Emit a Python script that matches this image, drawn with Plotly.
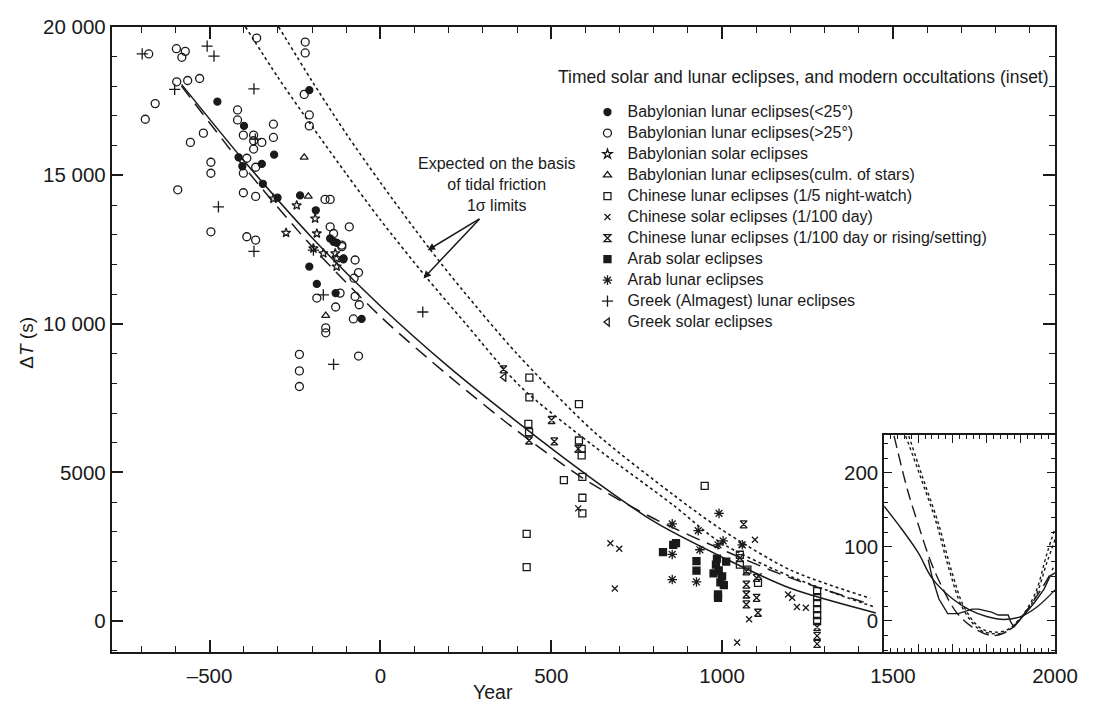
import plotly.graph_objects as go

W, H = 1102, 707
FONT = "Liberation Sans, Arial, sans-serif"
INK = "#1a1a1a"

# ---------------- data ----------------
bab_lun_lt25_year = [-477, -208, -399, -415, -404, -347, -344, -311, -301, -235, -189, -147, -128, -108,
                     -137, -108, -208, -186, -131, -55]
bab_lun_lt25_dt = [17479, 17867, 16663, 15606, 15305, 15383, 14714, 15694, 14246, 14324, 13822, 12875, 12731, 12173,
                   12764, 12206, 11928, 11346, 11035, 10166]

bab_lun_gt25_year = [-678, -597, -571, -581, -596, -564, -529, -659, -688, -556, -518, -496, -496, -593, -496,
                     -362, -418, -418, -401, -371, -371, -371, -347, -391, -365, -401, -313, -313, -401, -365,
                     -220, -220, -223, -208, -208, -162, -147, -147, -137, -113, -91, -74, -391, -365, -64,
                     -77, -74, -62, -131, -118, -186, -79, -160, -160, -237, -237, -237, -64, -113]
bab_lun_gt25_dt = [19085, 19262, 19172, 18972, 18148, 18191, 18258, 17413, 16887, 16108, 16419, 15440, 15070, 14513, 13098,
                   19620, 17200, 16863, 16352, 16352, 16163, 15884, 16108, 15574, 15272, 15072, 16720, 16274, 14413, 14290,
                   19484, 19118, 17723, 17031, 16663, 14190, 14190, 13266, 13042, 12597, 13266, 12150, 12932, 12820, 11727,
                   11537, 10925, 10644, 10567, 11035, 10868, 10166, 9865, 9698, 8972, 8417, 7892, 8916, 12651]

bab_sol_year = [-245, -276, -186, -191, -132, -313, -196, -167, -128, -128]
bab_sol_dt = [13988, 13065, 13042, 13543, 12373, 14212, 12540, 12373, 12206, 11928]

bab_culm_year = [-223, -211, -160]
bab_culm_dt = [15606, 14290, 10277]

chn_lun_watch_year = [436, 436, 433, 435, 428, 428, 581, 581, 589, 589, 591, 537, 591, 591, 949, 1074, 1052, 1052,
                      1105, 1278, 1278, 1278, 1278, 1278, 1278]
chn_lun_watch_dt = [8193, 7524, 6631, 6354, 2932, 1816, 7300, 6075, 5796, 5574, 4849, 4738, 4147, 3622, 4548, 1728, 2230, 1896,
                    1282, 1003, 800, 600, 400, 200, 0]

chn_sol_year = [579, 673, 699, 686, 1096, 1107, 1079, 1044, 1193, 1205, 1219, 1245, 1057]
chn_sol_dt = [3789, 2618, 2431, 1093, 2732, 1505, 57, -725, 892, 780, 468, 445, 2564]

chn_lun_day_year = [360, 501, 509, 579, 435, 1063, 1071, 1071, 1071, 1071, 1101, 1105, 1101, 1278, 1278, 1278, 1052]
chn_lun_day_dt = [8471, 6765, 6043, 5796, 6075, 3254, 1672, 1226, 892, 557, 780, 278, 1448, -200, -500, -770, 2118]

arab_sol_year = [827, 857, 865, 925, 925, 1005, 982, 990, 1000, 1012, 985, 988, 988, 995, 975]
arab_sol_dt = [2318, 2564, 2620, 1695, 2017, 1204, 1900, 1700, 1500, 2000, 2100, 892, 780, 1300, 1600]

arab_lun_year = [854, 854, 854, 930, 925, 935, 991, 1003, 988, 1059]
arab_lun_dt = [3267, 1394, 2240, 3043, 1314, 2397, 3622, 2698, 2564, 2564]

greek_lun_year = [-697, -507, -487, -602, -370, -474, -370, -196, -366, -167, 124, -137]
greek_lun_dt = [19085, 19350, 19010, 17890, 17910, 13940, 12440, 12480, 16220, 10979, 10400, 8638]

greek_sol_year = [362]
greek_sol_dt = [8200]

# fitted curves, main panel
fit_solid_year = [-582, -400, -200, 0, 200, 400, 600, 800, 1000, 1200, 1450]
fit_solid_dt = [18060, 15500, 12900, 10600, 8550, 6700, 4950, 3350, 2150, 1100, 270]

fit_dash_year = [-582, -400, -200, 0, 200, 400, 600, 800, 1000, 1200, 1433]
fit_dash_dt = [18000, 15300, 12600, 10250, 8250, 6400, 4750, 3450, 2400, 1450, 568]

tidal_hi_year = [-298, -200, -100, 0, 143, 243, 400, 623, 857, 994, 1200, 1433]
tidal_hi_dt = [20000, 18170, 16400, 14760, 12540, 11100, 8990, 6390, 4250, 3110, 1715, 769]

tidal_lo_year = [-395, -300, -200, -100, 0, 132, 250, 409, 623, 857, 994, 1200, 1450]
tidal_lo_dt = [20000, 18300, 16650, 15050, 13500, 11600, 10000, 7900, 5900, 3900, 2650, 1500, 450]

# inset curves (1500-2000)
ins_smooth_year = [1500, 1550, 1600, 1640, 1700, 1750, 1800, 1850, 1900, 1950, 2000]
ins_smooth_dt = [155, 125, 92, 58, 30, 15, 6, 2, 6, 20, 42]

ins_obs_year = [1629, 1640, 1660, 1686, 1717, 1757, 1777, 1814, 1834, 1863, 1871, 1880, 1900, 1940, 1968, 1986, 2000]
ins_obs_dt = [83, 60, 30, 10, 10, 16, 16, 12, 8, 8, -2, -8, 3, 25, 43, 61, 65]

ins_dash_year = [1529, 1569, 1600, 1634, 1663, 1711, 1757, 1806, 1834, 1871, 1920, 1977, 1995]
ins_dash_dt = [250, 176, 130, 83, 52, 12, -8, -19, -19, -11, 16, 56, 72]

ins_dot1_year = [1563, 1606, 1653, 1690, 1729, 1777, 1814, 1854, 1891, 1940, 1977, 2000]
ins_dot1_dt = [250, 195, 132, 70, 18, -11, -17, -15, -1, 35, 92, 125]

ins_dot2_year = [1572, 1612, 1660, 1697, 1735, 1780, 1820, 1860, 1895, 1940, 1977, 2000]
ins_dot2_dt = [250, 195, 130, 68, 18, -9, -15, -12, 2, 30, 80, 110]

series = [
    ("Babylonian lunar eclipses(<25°)", bab_lun_lt25_year, bab_lun_lt25_dt, "circle", 7),
    ("Babylonian lunar eclipses(>25°)", bab_lun_gt25_year, bab_lun_gt25_dt, "circle-open", 8),
    ("Babylonian solar eclipses", bab_sol_year, bab_sol_dt, "star-open", 7),
    ("Babylonian lunar eclipses(culm. of stars)", bab_culm_year, bab_culm_dt, "triangle-up-open", 7),
    ("Chinese lunar eclipses (1/5 night-watch)", chn_lun_watch_year, chn_lun_watch_dt, "square-open", 7),
    ("Chinese solar eclipses (1/100 day)", chn_sol_year, chn_sol_dt, "x-thin-open", 6),
    ("Chinese lunar eclipses (1/100 day or rising/setting)", chn_lun_day_year, chn_lun_day_dt, "hourglass-open", 7),
    ("Arab solar eclipses", arab_sol_year, arab_sol_dt, "square", 7),
    ("Arab lunar eclipses", arab_lun_year, arab_lun_dt, "asterisk-open", 8),
    ("Greek (Almagest) lunar eclipses", greek_lun_year, greek_lun_dt, "cross-thin-open", 8),
    ("Greek solar eclipses", greek_sol_year, greek_sol_dt, "triangle-left-open", 7),
]

# ---------------- layout geometry (pixels) ----------------
MAIN_L, MAIN_R, MAIN_T, MAIN_B = 114, 1077.5, 15, 651
X0_PX, X_PER_YR = 388.5, 0.349           # year 0 position, px per year
Y0_PX = 619.5                            # dT = 0 position
Y_PER_S = (Y0_PX - MAIN_T) / 20000.0     # px per second (top of frame = 20 000 s)
INS_L, INS_R, INS_T, INS_B = 903, 1077.5, 430, 651
INS_Y_PER = 0.753

main_xrange = [(MAIN_L - X0_PX) / X_PER_YR, (MAIN_R - X0_PX) / X_PER_YR]
main_yrange = [(Y0_PX - MAIN_B) / Y_PER_S, (Y0_PX - MAIN_T) / Y_PER_S]
ins_yrange = [(Y0_PX - INS_B) / INS_Y_PER, (Y0_PX - INS_T) / INS_Y_PER]


def px_x(p):
    return p / W


def px_y(p):
    return 1 - p / H


fig = go.Figure()

fig.add_trace(go.Scatter(x=tidal_hi_year, y=tidal_hi_dt, mode="lines", showlegend=False,
                         line=dict(color=INK, width=1.6, dash="dot", shape="spline", smoothing=0.8)))
fig.add_trace(go.Scatter(x=tidal_lo_year, y=tidal_lo_dt, mode="lines", showlegend=False,
                         line=dict(color=INK, width=1.6, dash="dot", shape="spline", smoothing=0.8)))
fig.add_trace(go.Scatter(x=fit_dash_year, y=fit_dash_dt, mode="lines", showlegend=False,
                         line=dict(color=INK, width=1.5, dash="14px,8px", shape="spline", smoothing=0.8)))
fig.add_trace(go.Scatter(x=fit_solid_year, y=fit_solid_dt, mode="lines", showlegend=False,
                         line=dict(color=INK, width=1.5, shape="spline", smoothing=0.8)))

for name, xs, ys, sym, sz in series:
    fig.add_trace(go.Scatter(
        x=xs, y=ys, mode="markers",
        name='<span style="font-size:16px">' + name + "</span>",
        marker=dict(symbol=sym, size=sz, color=INK, line=dict(color=INK, width=1.3)),
    ))

for xs, ys, dash, shape in [
    (ins_smooth_year, ins_smooth_dt, "solid", "spline"),
    (ins_obs_year, ins_obs_dt, "solid", "linear"),
    (ins_dash_year, ins_dash_dt, "12px,6px", "spline"),
    (ins_dot1_year, ins_dot1_dt, "dot", "spline"),
    (ins_dot2_year, ins_dot2_dt, "dot", "spline"),
]:
    fig.add_trace(go.Scatter(x=xs, y=ys, mode="lines", showlegend=False, xaxis="x2", yaxis="y2",
                             line=dict(color=INK, width=1.4, dash=dash, shape=shape)))

TICK_FONT = dict(family=FONT, size=20.5, color=INK)
axis_common = dict(showline=True, linecolor=INK, linewidth=1.6, mirror="ticks", ticks="inside",
                   tickcolor=INK, showgrid=False, zeroline=False, tickfont=TICK_FONT,
                   ticklabeloverflow="allow")

fig.update_layout(
    width=W, height=H, margin=dict(l=0, r=0, t=0, b=0),
    paper_bgcolor="white", plot_bgcolor="white",
    font=dict(family=FONT, color=INK),
    xaxis=dict(domain=[px_x(MAIN_L), px_x(MAIN_R)], range=main_xrange,
               tickmode="array", tickvals=[-500, 0, 500, 1000, 1500],
               ticktext=["–500", "0", "500", "1000", "1500"],
               ticklen=12, tickwidth=1.5, ticklabelstandoff=5,
               minor=dict(dtick=100, tick0=0, ticks="inside", ticklen=6, tickwidth=1.2, tickcolor=INK),
               anchor="y", **axis_common),
    yaxis=dict(domain=[px_y(MAIN_B), px_y(MAIN_T)], range=main_yrange,
               tickmode="array", tickvals=[0, 5000, 10000, 15000, 20000],
               ticktext=["0", "5000", "10 000", "15 000", "20 000"],
               ticklen=12, tickwidth=1.5,
               minor=dict(dtick=1000, tick0=0, ticks="inside", ticklen=6, tickwidth=1.2, tickcolor=INK),
               anchor="x", **axis_common),
    xaxis2=dict(domain=[px_x(INS_L), px_x(INS_R)], range=[1500, 2000], anchor="y2",
                tickmode="array", tickvals=[1500, 1600, 1700, 1800, 1900, 2000],
                ticktext=["", "", "", "", "", "2000"],
                ticklen=8, tickwidth=1.3, ticklabelstandoff=5,
                minor=dict(dtick=20, tick0=1500, ticks="inside", ticklen=4, tickwidth=1, tickcolor=INK),
                **axis_common),
    yaxis2=dict(domain=[px_y(INS_B), px_y(INS_T)], range=ins_yrange, anchor="x2",
                tickmode="array", tickvals=[0, 100, 200], ticktext=["0", "100", "200"],
                ticklen=8, tickwidth=1.3,
                minor=dict(dtick=20, tick0=0, ticks="inside", ticklen=4, tickwidth=1, tickcolor=INK),
                **axis_common),
    legend=dict(x=px_x(600), y=px_y(86), xanchor="left", yanchor="top",
                bgcolor="rgba(0,0,0,0)", font=dict(family=FONT, size=13.85, color=INK),
                itemsizing="trace", tracegroupgap=0),
    showlegend=True,
)

tip1 = (138, 12477)
tip2 = (126, 11530)
tail = (490, 210)


def to_px(yr, dt):
    return X0_PX + yr * X_PER_YR, Y0_PX - dt * Y_PER_S


t1 = to_px(*tip1)
t2 = to_px(*tip2)

annotations = [
    dict(text="Timed solar and lunar eclipses, and modern occultations (inset)",
         xref="paper", yref="paper", x=px_x(568), y=px_y(66), xanchor="left", yanchor="middle",
         showarrow=False, font=dict(family=FONT, size=17.5, color=INK)),
    dict(text="Expected on the basis<br>of tidal friction<br>1σ limits",
         xref="paper", yref="paper", x=px_x(507), y=px_y(175), xanchor="center", yanchor="middle",
         showarrow=False, font=dict(family=FONT, size=16, color=INK)),
    dict(text="", x=tip1[0], y=tip1[1], xref="x", yref="y", showarrow=True, arrowhead=2, arrowsize=1,
         arrowwidth=1.5, arrowcolor=INK, ax=tail[0] - t1[0], ay=tail[1] - t1[1]),
    dict(text="", x=tip2[0], y=tip2[1], xref="x", yref="y", showarrow=True, arrowhead=2, arrowsize=1,
         arrowwidth=1.5, arrowcolor=INK, ax=tail[0] - t2[0], ay=tail[1] - t2[1]),
    dict(text="Year", xref="paper", yref="paper", x=px_x(503), y=px_y(692), xanchor="center",
         yanchor="middle", showarrow=False, font=dict(family=FONT, size=19.5, color=INK)),
    dict(text="Δ<i>T</i> (s)", xref="paper", yref="paper", x=px_x(27), y=px_y(336), xanchor="center",
         yanchor="middle", textangle=-90, showarrow=False, font=dict(family=FONT, size=19, color=INK)),
]
fig.update_layout(annotations=annotations)

fig.write_html("out.html")
